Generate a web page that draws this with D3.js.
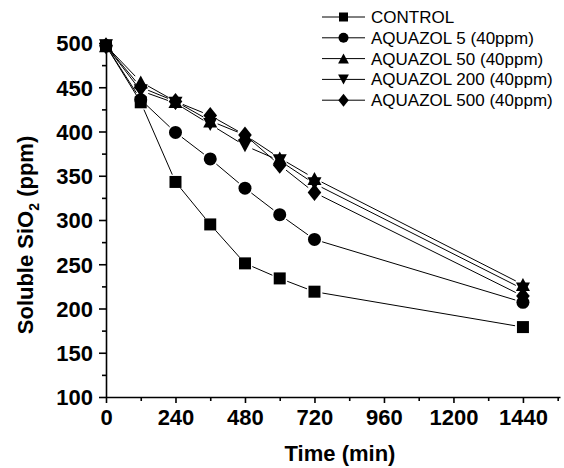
<!DOCTYPE html>
<html lang="en">
<head>
    <meta charset="UTF-8">
    <title>Soluble SiO2</title>
    <script src="https://cdn.jsdelivr.net/npm/d3@7/dist/d3.min.js"></script>
    <style>
        body { margin: 0; background: #fff; }
        text { font-family: Arial, "Liberation Sans", sans-serif; }
    </style>
</head>
<body>
    <svg width="564" height="468" id="mainsvg"></svg>
    <script>
        // data
        const times = [0, 120, 240, 360, 480, 600, 720, 1440]
        const control = [497, 433, 343, 295, 251, 234, 219, 179]
        const aq5 = [497, 436, 399, 369, 336, 306, 278, 207]
        const aq50 = [497, 456, 434, 412, 396, 370, 347, 227]
        const aq200 = [497, 446, 432, 408, 384, 367, 341, 222]
        const aq500 = [497, 450, 434, 418, 396, 362, 331, 214]
        const seriesNames = ['CONTROL', 'AQUAZOL 5 (40ppm)', 'AQUAZOL 50 (40ppm)',
            'AQUAZOL 200 (40ppm)', 'AQUAZOL 500 (40ppm)']
        const xTicks = [0, 240, 480, 720, 960, 1200, 1440]
        const yTicks = [100, 150, 200, 250, 300, 350, 400, 450, 500]

        const allSeries = [control, aq5, aq50, aq200, aq500]

        // marker shapes, s = height
        const shapes = {
            square: (s) => `M${-s/2},${-s/2}h${s}v${s}h${-s}Z`,
            circle: (s) => { const r = s / 2; return `M${r},0A${r},${r} 0 1 1 ${-r},0A${r},${r} 0 1 1 ${r},0Z` },
            up: (s) => { const w = s * 1.08, h = s; return `M0,${-h/2}L${w/2},${h/2}L${-w/2},${h/2}Z` },
            down: (s) => { const w = s * 1.08, h = s; return `M0,${h/2}L${w/2},${-h/2}L${-w/2},${-h/2}Z` },
            diamond: (s) => { const w = s * 0.8, h = s; return `M0,${-h/2}L${w/2},0L0,${h/2}L${-w/2},0Z` }
        }
        const markerType = ['square', 'circle', 'up', 'down', 'diamond']
        const plotSize = [12, 13, 13, 13, 17]
        const legendSize = [9, 10, 10, 10, 13]

        const svg = d3.select('#mainsvg')
        const x = d3.scaleLinear().domain([0, 1568]).range([106, 560])
        const y = d3.scaleLinear().domain([100, 500]).range([397, 43])

        // axes
        const xAxis = svg.append('g').attr('transform', 'translate(0,397)')
            .call(d3.axisBottom(x).tickValues(xTicks).tickFormat(d3.format('d'))
                .tickSize(6).tickSizeOuter(0).tickPadding(6))
        svg.append('g').attr('transform', 'translate(0,397)')
            .call(d3.axisBottom(x).tickValues(d3.range(120, 1568, 240)).tickSize(4).tickSizeOuter(0).tickFormat(''))
            .select('.domain').remove()
        const yAxis = svg.append('g').attr('transform', 'translate(106,0)')
            .call(d3.axisLeft(y).tickValues(yTicks).tickFormat(d3.format('d'))
                .tickSize(7).tickSizeOuter(0).tickPadding(6))
        svg.append('g').attr('transform', 'translate(106,0)')
            .call(d3.axisLeft(y).tickValues(d3.range(125, 500, 50)).tickSize(4).tickSizeOuter(0).tickFormat(''))
            .select('.domain').remove()

        svg.selectAll('.domain, .tick line').attr('stroke', '#000').attr('stroke-width', 1.6)
        svg.selectAll('.tick text').attr('font-size', 22).attr('font-weight', 'bold')
            .attr('fill', '#000').attr('font-family', 'Arial, "Liberation Sans", sans-serif')
        xAxis.selectAll('.tick text').attr('dy', '0.71em')
        yAxis.selectAll('.tick text').attr('dy', '0.36em')

        // axis titles
        svg.append('text').text('Time (min)')
            .attr('x', 340).attr('y', 461)
            .attr('text-anchor', 'middle').attr('font-size', 22).attr('font-weight', 'bold')
        const yt = svg.append('text')
            .attr('transform', 'translate(33,235) rotate(-90)')
            .attr('text-anchor', 'middle').attr('font-size', 22).attr('font-weight', 'bold')
        yt.append('tspan').text('Soluble SiO')
        yt.append('tspan').text('2').attr('font-size', 14).attr('dy', 6)
        yt.append('tspan').text(' (ppm)').attr('dy', -6)

        // lines with gaps round the symbols
        const gap = 8
        allSeries.forEach(vals => {
            const pts = vals.map((v, i) => [x(times[i]), y(v)])
            for (let i = 0; i < pts.length - 1; i++) {
                const [x1, y1] = pts[i], [x2, y2] = pts[i + 1]
                const d = Math.hypot(x2 - x1, y2 - y1)
                if (d <= gap * 2) continue
                const ux = (x2 - x1) / d, uy = (y2 - y1) / d
                svg.append('line')
                    .attr('x1', x1 + ux * gap).attr('y1', y1 + uy * gap)
                    .attr('x2', x2 - ux * gap).attr('y2', y2 - uy * gap)
                    .attr('stroke', '#000').attr('stroke-width', 1)
            }
        })

        // symbols
        allSeries.forEach((vals, k) => {
            svg.append('g').selectAll('path').data(vals).join('path')
                .attr('d', shapes[markerType[k]](plotSize[k]))
                .attr('transform', (v, i) => `translate(${x(times[i])},${y(v)})`)
                .attr('fill', '#000')
        })

        // legend
        const legend = svg.append('g')
        seriesNames.forEach((name, k) => {
            const ly = 17 + k * 20.8
            legend.append('line').attr('x1', 322).attr('x2', 365).attr('y1', ly).attr('y2', ly)
                .attr('stroke', '#000').attr('stroke-width', 1)
            legend.append('path').attr('d', shapes[markerType[k]](legendSize[k]))
                .attr('transform', `translate(343.5,${ly})`).attr('fill', '#000')
            legend.append('text').text(name).attr('x', 371).attr('y', ly + 6)
                .attr('font-size', 17).attr('fill', '#000')
        })
    </script>
</body>
</html>
